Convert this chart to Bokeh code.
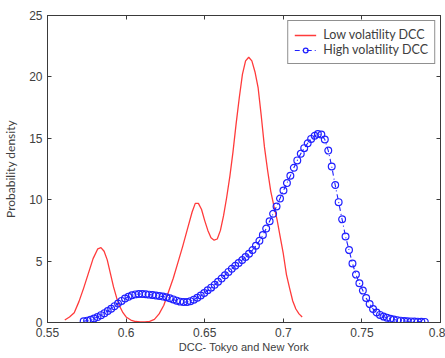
from bokeh.plotting import figure
from bokeh.models import (LinearAxis, FixedTicker, CustomJSTickFormatter, Legend, LegendItem, Range1d)
from bokeh.embed import file_html
from bokeh.resources import INLINE

# ---------------- data ----------------
low_x = [0.561, 0.564, 0.567, 0.570, 0.573, 0.576, 0.579, 0.582, 0.584, 0.586,
         0.588, 0.590, 0.592, 0.594, 0.596, 0.598, 0.600, 0.603, 0.606, 0.609,
         0.612, 0.615, 0.618, 0.621, 0.624, 0.627, 0.630, 0.633, 0.636, 0.639,
         0.642, 0.644, 0.646, 0.648, 0.650, 0.652, 0.654, 0.656, 0.658, 0.660,
         0.662, 0.664, 0.666, 0.668, 0.670, 0.672, 0.674, 0.676, 0.678, 0.680,
         0.682, 0.684, 0.686, 0.688, 0.690, 0.692, 0.694, 0.696, 0.698, 0.700,
         0.702, 0.704, 0.706, 0.708, 0.710, 0.712]
low_y = [0.2, 0.45, 0.8, 1.7, 2.8, 4.0, 5.2, 6.0, 6.1, 5.8,
         5.1, 4.0, 2.9, 2.0, 1.3, 0.8, 0.45, 0.2, 0.08, 0.05,
         0.05, 0.1, 0.25, 0.7, 1.4, 2.5, 3.6, 4.9, 6.2, 7.6,
         9.0, 9.7, 9.7, 9.2, 8.3, 7.5, 6.9, 6.7, 6.8, 7.5,
         8.7, 10.2, 11.9, 13.9, 16.2, 18.3, 20.2, 21.3, 21.6, 21.3,
         20.4, 19.1, 16.8, 14.3, 12.4, 10.7, 9.5, 8.4, 7.0, 5.6,
         3.9, 2.8, 1.75, 1.1, 0.7, 0.45]

high_x = [0.5730, 0.5752, 0.5774, 0.5796, 0.5818, 0.5840, 0.5862, 0.5883, 0.5905, 0.5927,
          0.5949, 0.5971, 0.5993, 0.6015, 0.6037, 0.6059, 0.6081, 0.6103, 0.6125, 0.6146,
          0.6168, 0.6190, 0.6212, 0.6234, 0.6256, 0.6278, 0.6300, 0.6322, 0.6344, 0.6366,
          0.6388, 0.6409, 0.6431, 0.6453, 0.6475, 0.6497, 0.6519, 0.6541, 0.6563, 0.6585,
          0.6607, 0.6629, 0.6651, 0.6672, 0.6694, 0.6716, 0.6738, 0.6760, 0.6782, 0.6804,
          0.6826, 0.6848, 0.6870, 0.6891, 0.6913, 0.6935, 0.6957, 0.6979, 0.7001, 0.7023,
          0.7045, 0.7067, 0.7089, 0.7111, 0.7133, 0.7155, 0.7177, 0.7199, 0.7220, 0.7242,
          0.7264, 0.7286, 0.7308, 0.7330, 0.7352, 0.7374, 0.7396, 0.7418, 0.7440, 0.7462,
          0.7484, 0.7506, 0.7527, 0.7549, 0.7571, 0.7593, 0.7615, 0.7637, 0.7659, 0.7681,
          0.7703, 0.7725, 0.7747, 0.7769, 0.7790, 0.7812, 0.7834, 0.7856, 0.7878, 0.7900]
high_y = [0.10, 0.15, 0.22, 0.32, 0.45, 0.60, 0.76, 0.93, 1.12, 1.33,
          1.55, 1.76, 1.95, 2.10, 2.22, 2.29, 2.32, 2.32, 2.30, 2.27,
          2.24, 2.20, 2.16, 2.11, 2.05, 1.97, 1.88, 1.78, 1.70, 1.66,
          1.67, 1.74, 1.86, 2.02, 2.20, 2.40, 2.62, 2.84, 3.07, 3.32,
          3.58, 3.85, 4.12, 4.38, 4.62, 4.85, 5.08, 5.33, 5.60, 5.90,
          6.25, 6.65, 7.12, 7.65, 8.25, 8.85, 9.45, 10.1, 10.75, 11.35,
          11.95, 12.6, 13.2, 13.75, 14.2, 14.6, 14.95, 15.2, 15.35, 15.3,
          14.9, 14.0, 12.7, 11.2, 9.8, 8.4, 7.0, 5.9, 4.8, 3.9,
          3.2, 2.6, 2.0, 1.5, 1.1, 0.82, 0.62, 0.48, 0.38, 0.30,
          0.24, 0.19, 0.15, 0.12, 0.10, 0.09, 0.08, 0.07, 0.06, 0.05]

x_ticks = [0.55, 0.6, 0.65, 0.7, 0.75, 0.8]
x_tick_labels = ["0.55", "0.6", "0.65", "0.7", "0.75", "0.8"]
y_ticks = [0, 5, 10, 15, 20, 25]
y_tick_labels = ["0", "5", "10", "15", "20", "25"]

series_labels = ["Low volatility DCC", "High volatility DCC"]
x_label = "DCC- Tokyo and New York"
y_label = "Probability density"

# ---------------- figure ----------------
AX = "#3a3a3a"
TXT = "#404040"

p = figure(width=445, height=358, output_backend="svg", toolbar_location=None,
           x_range=Range1d(0.55, 0.8), y_range=Range1d(0, 25),
           x_axis_location=None, y_axis_location=None,
           min_border_left=47, min_border_right=5, min_border_top=15, min_border_bottom=36)
p.grid.visible = False
p.outline_line_color = AX
p.background_fill_color = "white"
p.border_fill_color = "white"

def fmt(tv, tl):
    return CustomJSTickFormatter(args=dict(tvals=tv, tlabs=tl), code="""
        let best = 0; let d = 1e9;
        for (let i = 0; i < tvals.length; i++) {
            const dd = Math.abs(tvals[i] - tick);
            if (dd < d) { d = dd; best = i; }
        }
        return tlabs[best];
    """)

def style(ax, show_labels):
    ax.axis_line_color = AX
    ax.major_tick_line_color = AX
    ax.major_tick_in = 4
    ax.major_tick_out = 0
    ax.minor_tick_line_color = None
    if show_labels:
        ax.major_label_text_font = "Liberation Sans"
        ax.major_label_text_font_size = "12px"
        ax.major_label_text_color = TXT
    else:
        ax.major_label_text_color = None
        ax.major_label_text_font_size = "0px"
        ax.major_label_standoff = 0

xb = LinearAxis(ticker=FixedTicker(ticks=x_ticks), formatter=fmt(x_ticks, x_tick_labels))
style(xb, True)
xb.major_label_standoff = 5
xb.axis_label = x_label
xb.axis_label_text_font = "Liberation Sans"
xb.axis_label_text_font_size = "11px"
xb.axis_label_text_font_style = "normal"
xb.axis_label_text_color = TXT
xb.axis_label_standoff = 1
p.add_layout(xb, "below")

yl = LinearAxis(ticker=FixedTicker(ticks=y_ticks), formatter=fmt(y_ticks, y_tick_labels))
style(yl, True)
yl.major_label_standoff = 5
yl.axis_label = y_label
yl.axis_label_text_font = "Lato"
yl.axis_label_text_font_size = "12px"
yl.axis_label_text_font_style = "normal"
yl.axis_label_text_color = TXT
yl.axis_label_standoff = 8
p.add_layout(yl, "left")

xt = LinearAxis(ticker=FixedTicker(ticks=x_ticks))
style(xt, False)
p.add_layout(xt, "above")

yr = LinearAxis(ticker=FixedTicker(ticks=y_ticks))
style(yr, False)
p.add_layout(yr, "right")

# ---------------- glyphs ----------------
r_low = p.line(low_x, low_y, line_color="#ff3b3b", line_width=1.3)
r_high_line = p.line(high_x, high_y, line_color="#2020ff", line_width=1.1, line_dash="5 3 1 3")
r_high_pts = p.scatter(high_x, high_y, marker="circle", size=6.8, fill_color=None,
                       line_color="#2020ff", line_width=1.2)

legend = Legend(items=[LegendItem(label=series_labels[0], renderers=[r_low]),
                       LegendItem(label=series_labels[1], renderers=[r_high_line, r_high_pts])],
                location="top_right")
legend.margin = 5
legend.padding = 6
legend.spacing = 0
legend.label_height = 12
legend.glyph_height = 12
legend.glyph_width = 22
legend.label_standoff = 7
legend.label_text_font = "Lato"
legend.label_text_font_size = "12.5px"
legend.label_text_color = TXT
legend.border_line_color = "#222222"
legend.border_line_width = 1
legend.background_fill_alpha = 1
p.add_layout(legend, "center")

open("out.html", "w").write(file_html(p, INLINE))
